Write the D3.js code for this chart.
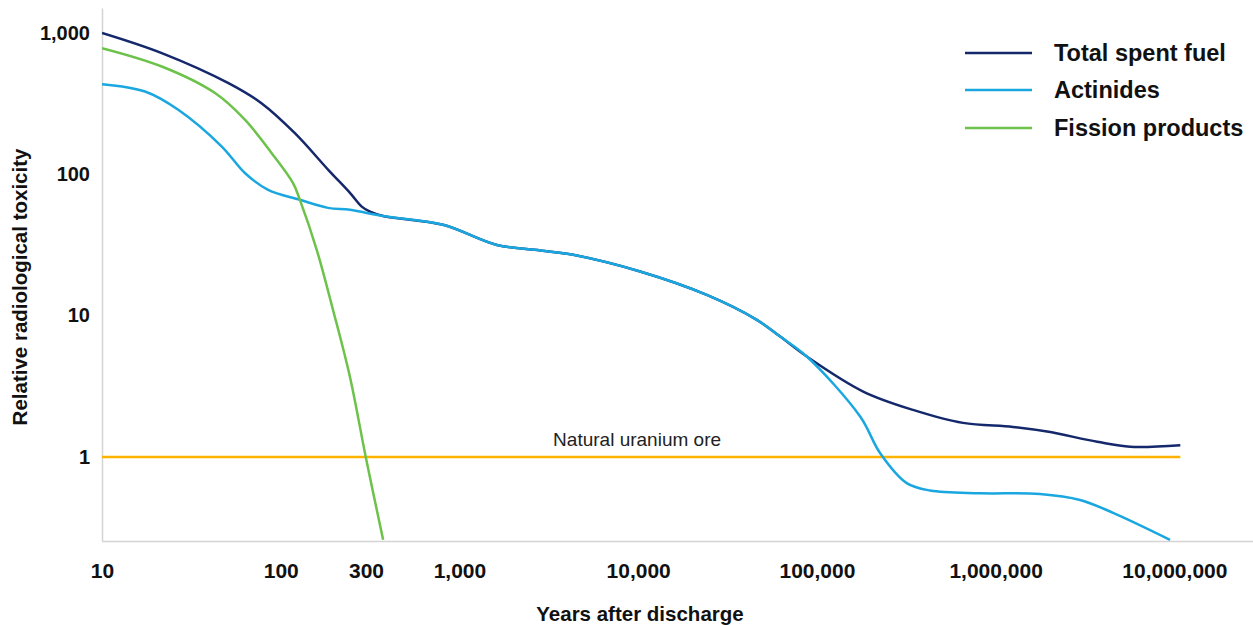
<!DOCTYPE html>
<html>
<head>
<meta charset="utf-8">
<script src="https://cdn.jsdelivr.net/npm/d3@7"></script>
<style>
  body { margin: 0; background: #fff; }
  text { font-family: "Liberation Sans", Arial, sans-serif; }
</style>
</head>
<body>
<script>
// values (years after discharge, relative toxicity)
const totalYears  = [10, 21.6, 51, 78, 120, 185, 244, 284, 316, 374, 809, 1620, 2830, 4330, 10250, 24200, 46100, 62300, 87800, 181600, 345000, 657000, 1250000, 1940000, 3700000, 5660000, 10800000];
const totalValues = [1000, 720, 441, 318, 195, 107, 73.8, 59, 54.3, 50.6, 43.9, 31.6, 28.9, 26.9, 20.5, 14.0, 9.33, 7.1, 5.13, 2.90, 2.15, 1.74, 1.63, 1.51, 1.28, 1.18, 1.21];

const actinideYears  = [10, 17.4, 26.7, 46.8, 63, 85, 128, 184, 244, 374, 809, 1620, 2830, 4330, 10250, 24200, 46100, 62300, 87800, 174600, 226000, 318000, 430000, 819000, 1770000, 2970000, 4540000, 9460000];
const actinideValues = [434, 385, 286, 157, 102, 77.6, 65.9, 57.8, 56, 50.6, 43.9, 31.6, 28.9, 26.9, 20.5, 14.0, 9.33, 7.1, 5.13, 1.93, 1.06, 0.652, 0.578, 0.553, 0.547, 0.496, 0.402, 0.259];

const fissionYears  = [10, 21.6, 42.9, 63, 89, 117, 128, 159, 196, 244, 299, 374];
const fissionValues = [780, 578, 375, 243, 141, 86.9, 65.9, 29.2, 11.0, 3.68, 1.0, 0.259];

const oreYears  = [10, 10800000];
const oreValues = [1, 1];

const xTicks = [10, 100, 300, 1000, 10000, 100000, 1000000, 10000000];
const yTicks = [1, 10, 100, 1000];

const seriesNames = ["Total spent fuel", "Actinides", "Fission products"];
const seriesColors = ["#14286b", "#1aa7e0", "#6cc24a"];

const width = 1253, height = 625;
const margin = { top: 8, right: 0, bottom: 84, left: 102 };

const svg = d3.select("body").append("svg")
    .attr("width", width)
    .attr("height", height);

const x = d3.scaleLog()
    .domain([10, Math.pow(10, 7.44)])
    .range([margin.left, width - margin.right]);

const y = d3.scaleLog()
    .domain([0.254, 1500])
    .range([height - margin.bottom, margin.top]);

const fmt = d3.format(",");

// axes: plain grey lines, bold labels, no tick marks
const xAxis = svg.append("g")
    .attr("transform", `translate(0,${height - margin.bottom})`)
    .call(d3.axisBottom(x).tickValues(xTicks).tickFormat(fmt).tickSize(0).tickPadding(22));
xAxis.select(".domain").attr("stroke", "#d4d4d4").attr("stroke-width", 1.5);
xAxis.selectAll("text")
    .attr("fill", "#111")
    .style("font-size", "21px")
    .style("font-weight", "bold");

const yAxis = svg.append("g")
    .attr("transform", `translate(${margin.left},0)`)
    .call(d3.axisLeft(y).tickValues(yTicks).tickFormat(fmt).tickSize(0).tickPadding(12));
yAxis.select(".domain").attr("stroke", "#d4d4d4").attr("stroke-width", 1.5);
yAxis.selectAll("text")
    .attr("fill", "#111")
    .style("font-size", "20px")
    .style("font-weight", "bold");

svg.append("text")
    .attr("x", 640)
    .attr("y", 621)
    .attr("text-anchor", "middle")
    .attr("fill", "#111")
    .style("font-size", "20.5px")
    .style("font-weight", "bold")
    .text("Years after discharge");

svg.append("text")
    .attr("transform", "translate(27,287) rotate(-90)")
    .attr("text-anchor", "middle")
    .attr("fill", "#111")
    .style("font-size", "20.5px")
    .style("font-weight", "bold")
    .text("Relative radiological toxicity");

svg.append("clipPath").attr("id", "plot")
    .append("rect")
    .attr("x", margin.left).attr("y", margin.top)
    .attr("width", width - margin.left - margin.right)
    .attr("height", height - margin.top - margin.bottom);

const line = d3.line()
    .x(d => x(d[0]))
    .y(d => y(d[1]))
    .curve(d3.curveCatmullRom.alpha(0.5));

const plot = svg.append("g").attr("clip-path", "url(#plot)");

// natural uranium ore reference level
plot.append("path")
    .datum(d3.zip(oreYears, oreValues))
    .attr("fill", "none")
    .attr("stroke", "#ffb300")
    .attr("stroke-width", 2.5)
    .attr("d", line);

svg.append("text")
    .attr("x", x(9860))
    .attr("y", y(1) - 11)
    .attr("text-anchor", "middle")
    .attr("fill", "#222")
    .style("font-size", "19px")
    .text("Natural uranium ore");

const series = [
    d3.zip(totalYears, totalValues),
    d3.zip(actinideYears, actinideValues),
    d3.zip(fissionYears, fissionValues)
];

// total underneath, actinides over it where they coincide
series.forEach((pts, i) => {
    plot.append("path")
        .datum(pts)
        .attr("fill", "none")
        .attr("stroke", seriesColors[i])
        .attr("stroke-width", 2.5)
        .attr("d", line);
});

// legend
const legend = svg.append("g");
const legendY = [53, 90, 128];
seriesNames.forEach((name, i) => {
    legend.append("line")
        .attr("x1", 965).attr("x2", 1032)
        .attr("y1", legendY[i]).attr("y2", legendY[i])
        .attr("stroke", seriesColors[i])
        .attr("stroke-width", 2.5);
    legend.append("text")
        .attr("x", 1054)
        .attr("y", legendY[i] + 8)
        .attr("fill", "#111")
        .style("font-size", "23.5px")
        .style("font-weight", "bold")
        .text(name);
});
</script>
</body>
</html>
